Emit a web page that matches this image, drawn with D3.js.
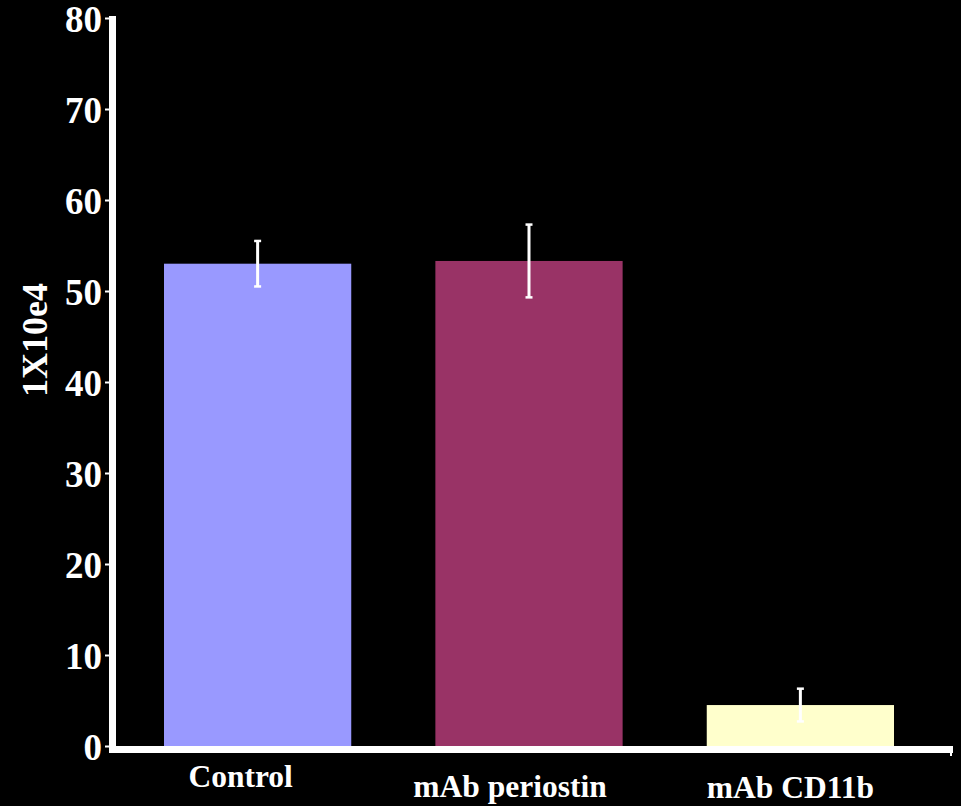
<!DOCTYPE html>
<html>
<head>
<meta charset="utf-8">
<script src="https://cdn.jsdelivr.net/npm/d3@7"></script>
<style>
html,body{margin:0;padding:0;background:#000;}
svg{display:block;}
</style>
</head>
<body>
<script>
// ---- data ----
const categories = ["Control", "mAb periostin", "mAb CD11b"];
const means = [53.0, 53.3, 4.5];
const errors = [2.5, 4.0, 1.8];
const colors = ["#9999FF", "#993366", "#FFFFCC"];
const yTicks = [0, 10, 20, 30, 40, 50, 60, 70, 80];
const yLabel = "1X10e4";

// ---- layout ----
const W = 961, H = 806;
const svg = d3.select("body").append("svg").attr("width", W).attr("height", H)
  .style("background", "#000");
const font = "'Liberation Serif', 'Times New Roman', serif";

const y = d3.scaleLinear().domain([0, 80]).range([746, 18]);
const x = d3.scaleBand().domain(categories).range([164, 894]).paddingInner(0.31).paddingOuter(0);

// bars
svg.selectAll("rect.bar").data(categories).enter().append("rect")
  .attr("class", "bar")
  .attr("x", d => x(d))
  .attr("width", x.bandwidth())
  .attr("y", (d, i) => y(means[i]))
  .attr("height", (d, i) => y(0) - y(means[i]))
  .attr("fill", (d, i) => colors[i]);

// error bars
const eg = svg.selectAll("g.err").data(categories).enter().append("g").attr("class", "err");
eg.append("line")
  .attr("x1", d => x(d) + x.bandwidth() / 2).attr("x2", d => x(d) + x.bandwidth() / 2)
  .attr("y1", (d, i) => y(means[i] + errors[i])).attr("y2", (d, i) => y(means[i] - errors[i]))
  .attr("stroke", "#fff").attr("stroke-width", 3);
[1, -1].forEach(s => {
  eg.append("line")
    .attr("x1", d => x(d) + x.bandwidth() / 2 - 3.5).attr("x2", d => x(d) + x.bandwidth() / 2 + 3.5)
    .attr("y1", (d, i) => y(means[i] + s * errors[i])).attr("y2", (d, i) => y(means[i] + s * errors[i]))
    .attr("stroke", "#fff").attr("stroke-width", 2.5);
});

// y axis
const yAxis = d3.axisLeft(y).tickValues(yTicks).tickSize(4).tickPadding(4);
const ya = svg.append("g").attr("transform", "translate(109,0)").call(yAxis);
ya.select(".domain").remove();
ya.selectAll(".tick line").attr("stroke", "#fff").attr("stroke-width", 2);
ya.selectAll(".tick text")
  .attr("fill", "#fff").attr("font-family", font).attr("font-weight", "bold")
  .attr("font-size", 37).attr("x", -7).attr("dy", "0.36em");

// axis lines
svg.append("rect").attr("x", 109).attr("y", 16).attr("width", 7).attr("height", y(0) - 16 + 7).attr("fill", "#fff");
svg.append("rect").attr("x", 109).attr("y", y(0)).attr("width", 953 - 109).attr("height", 7).attr("fill", "#fff");
svg.append("line").attr("x1", 951).attr("x2", 951).attr("y1", y(0)).attr("y2", y(0) + 10)
  .attr("stroke", "#fff").attr("stroke-width", 2);

// y label
svg.append("text")
  .attr("transform", "translate(47,340) rotate(-90)")
  .attr("text-anchor", "middle")
  .attr("fill", "#fff").attr("font-family", font).attr("font-weight", "bold").attr("font-size", 36)
  .text(yLabel);

// x labels
const labelNudge = [[-17, 787], [-19, 797], [-10, 798]];
svg.selectAll("text.xl").data(categories).enter().append("text")
  .attr("class", "xl")
  .attr("x", (d, i) => x(d) + x.bandwidth() / 2 + labelNudge[i][0])
  .attr("y", (d, i) => labelNudge[i][1])
  .attr("text-anchor", "middle")
  .attr("fill", "#fff").attr("font-family", font).attr("font-weight", "bold").attr("font-size", 31.5)
  .text(d => d);
</script>
</body>
</html>
